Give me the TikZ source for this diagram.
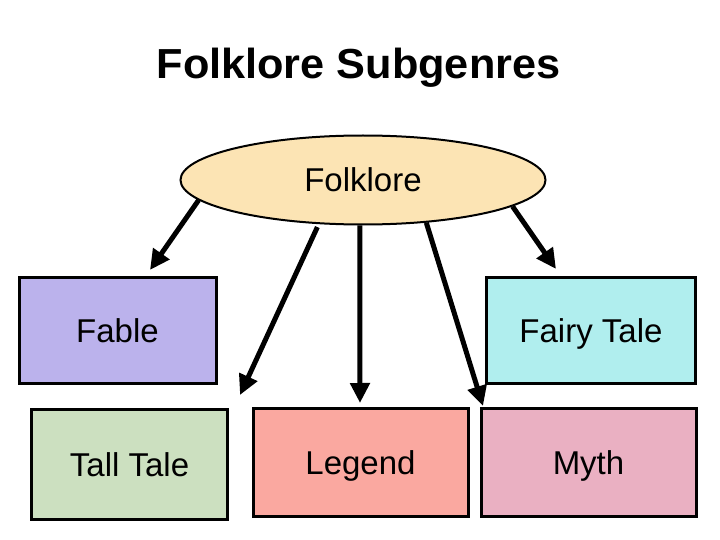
\documentclass[tikz,border=0pt]{standalone}
\usepackage{fontspec}
\setmainfont{Liberation Sans}
\usetikzlibrary{shapes.geometric,arrows.meta}
\definecolor{ellfill}{RGB}{252,228,180}
\definecolor{fablec}{RGB}{187,178,236}
\definecolor{fairyc}{RGB}{176,238,238}
\definecolor{tallc}{RGB}{204,224,192}
\definecolor{legendc}{RGB}{250,168,160}
\definecolor{mythc}{RGB}{234,176,194}
\tikzset{
  genrebox/.style={draw=black,line width=3pt,rectangle,inner sep=0pt,
    font=\fontsize{33}{40}\selectfont,text height=24pt,text depth=0pt},
  conn/.style={line width=5pt,-{Triangle[length=20pt,width=19pt]}}
}
\begin{document}
\begin{tikzpicture}[x=1pt,y=-1pt]
\useasboundingbox (0,0) rectangle (720,540);
\node[anchor=base,font=\fontsize{42}{50}\selectfont\bfseries] (title) at (358.5,79) {\scalebox{1.03}[1]{Folklore Subgenres}};
\node[ellipse,draw=black,line width=2pt,fill=ellfill,minimum width=365pt,minimum height=89pt,inner sep=0pt,
  font=\fontsize{33}{40}\selectfont,text height=24pt,text depth=0pt] (f) at (363,180) {Folklore};
\node[genrebox,fill=fablec,minimum width=197pt,minimum height=106pt] (fable) at (117.5,330) {Fable};
\node[genrebox,fill=fairyc,minimum width=209pt,minimum height=106pt] (fairy) at (591,330) {Fairy Tale};
\node[genrebox,fill=tallc,minimum width=196pt,minimum height=110pt] (tall) at (129.5,464) {Tall Tale};
\node[genrebox,fill=legendc,minimum width=215pt,minimum height=108pt] (legend) at (360.5,462) {Legend};
\node[genrebox,fill=mythc,minimum width=215pt,minimum height=108pt] (myth) at (588.5,462) {Myth};
\coordinate (e1) at (150,270);
\coordinate (e2) at (240,395);
\coordinate (e3) at (360,403);
\coordinate (e4) at (483,406);
\coordinate (e5) at (556,269);
\draw[conn] (f.187) -- (e1);
\draw[conn] ([yshift=-3pt]f.224) -- (e2);
\draw[conn] (f.266) -- (e3);
\draw[conn] (f.326) -- (e4);
\draw[conn] (f.350.5) -- (e5);
\end{tikzpicture}
\end{document}
